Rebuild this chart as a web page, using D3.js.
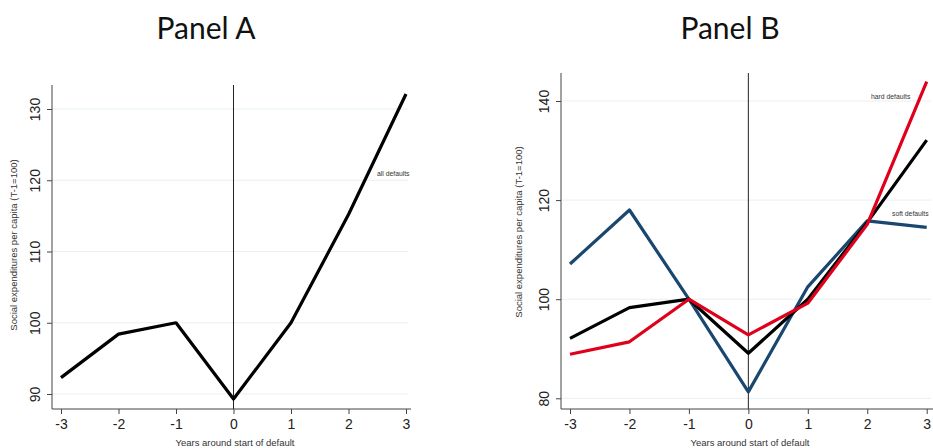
<!DOCTYPE html>
<html><head><meta charset="utf-8">
<script src="https://cdn.jsdelivr.net/npm/d3@7"></script>
<style>body{margin:0;background:#fff}svg{display:block}</style>
</head><body>
<svg id="c" width="933" height="448"></svg>
<script>
const years = [-3, -2, -1, 0, 1, 2, 3];
const xTicks = [-3, -2, -1, 0, 1, 2, 3];
const yTicksA = [90, 100, 110, 120, 130];
const yTicksB = [80, 100, 120, 140];
const allDefaultsA = [92.3, 98.4, 100, 89.3, 100, 115.2, 132.1];
const allDefaultsB = [92.1, 98.3, 100, 89.1, 100, 115.5, 132.1];
const hardDefaults = [88.9, 91.4, 100, 92.8, 99.2, 115.1, 143.9];
const softDefaults = [107.1, 118.0, 100, 81.3, 102.5, 115.8, 114.5];
const titles = ["Panel A", "Panel B"];
const yTitle = "Social expenditures per capita (T-1=100)";
const xTitle = "Years around start of default";

const svg = d3.select("#c");
const FONT = "'Liberation Sans', Arial, sans-serif";
const AXC = "#444", GRID = "#e6f0f2";

function panel(cfg) {
  const g = svg.append("g");
  const x = d3.scaleLinear().domain([-3, 3]).range(cfg.xr);
  const y = d3.scaleLinear().domain(cfg.yd).range(cfg.yr);
  g.selectAll(".grid").data(cfg.yTicks).join("line")
    .attr("x1", cfg.axisX).attr("x2", cfg.gridEnd)
    .attr("y1", d => y(d)).attr("y2", d => y(d))
    .attr("stroke", GRID).attr("stroke-width", 1);
  g.append("line").attr("x1", x(0)).attr("x2", x(0))
    .attr("y1", cfg.top).attr("y2", cfg.axisY)
    .attr("stroke", "#222").attr("stroke-width", 1);
  const ya = g.append("g").attr("transform", `translate(${cfg.axisX},0)`)
    .call(d3.axisLeft(y).tickValues(cfg.yTicks).tickSize(5).tickPadding(0).tickSizeOuter(0));
  ya.select(".domain").remove();
  ya.append("line").attr("x1", 0).attr("x2", 0).attr("y1", cfg.top).attr("y2", cfg.axisY)
    .attr("stroke", AXC);
  ya.selectAll(".tick line").attr("stroke", AXC);
  ya.selectAll(".tick text")
    .attr("x", null).attr("dy", null)
    .attr("text-anchor", "middle")
    .attr("transform", "translate(-12,0) rotate(-90)")
    .attr("fill", "#222").style("font", `14px ${FONT}`);
  const xa = g.append("g").attr("transform", `translate(0,${cfg.axisY})`)
    .call(d3.axisBottom(x).tickValues(xTicks).tickSize(5).tickPadding(5).tickSizeOuter(0)
      .tickFormat(d3.format("d")));
  xa.select(".domain").remove();
  xa.append("line").attr("x1", cfg.axisX).attr("x2", cfg.xAxisEnd).attr("y1", 0).attr("y2", 0)
    .attr("stroke", AXC);
  xa.selectAll(".tick line").attr("stroke", AXC);
  xa.selectAll(".tick text").attr("fill", "#222").style("font", `14px ${FONT}`)
    .text(d => d < 0 ? "-" + Math.abs(d) : d);
  g.append("text").attr("x", cfg.titleX).attr("y", 39).attr("text-anchor", "middle")
    .style("font", "30px Lato, 'Open Sans', sans-serif").attr("fill", "#111").text(cfg.title);
  g.append("text").attr("transform", `translate(${cfg.yTitleX},${cfg.yTitleY}) rotate(-90)`)
    .attr("text-anchor", "middle").style("font", `9.5px ${FONT}`).attr("fill", "#333").text(yTitle);
  g.append("text").attr("x", cfg.xTitleX).attr("y", cfg.xTitleY).attr("text-anchor", "middle")
    .style("font", `9.5px ${FONT}`).attr("fill", "#333").text(xTitle);
  const line = d3.line().x((d, i) => x(years[i])).y(d => y(d));
  cfg.series.forEach(s => {
    g.append("path").attr("d", line(s.values)).attr("fill", "none")
      .attr("stroke", s.color).attr("stroke-width", 3.2)
      .attr("stroke-linejoin", "round").attr("stroke-linecap", "butt");
  });
  cfg.labels.forEach(l => {
    g.append("text").attr("x", l.x).attr("y", y(l.v)).attr("dy", "0.35em")
      .style("font", `6.8px ${FONT}`).attr("fill", "#333").text(l.text);
  });
}

panel({
  title: titles[0], titleX: 206,
  xr: [61, 406], yd: [90, 130], yr: [394, 109],
  yTicks: yTicksA, axisX: 52, axisY: 409, top: 85, gridEnd: 408, xAxisEnd: 411,
  yTitleX: 17, yTitleY: 245, xTitleX: 235, xTitleY: 446,
  series: [{ values: allDefaultsA, color: "#000" }],
  labels: [{ x: 377, v: 120.9, text: "all defaults" }]
});

panel({
  title: titles[1], titleX: 730,
  xr: [570, 926.7], yd: [80, 140], yr: [398.3, 101],
  yTicks: yTicksB, axisX: 561, axisY: 409, top: 73, gridEnd: 931, xAxisEnd: 933,
  yTitleX: 522, yTitleY: 232, xTitleX: 750, xTitleY: 446,
  series: [
    { values: softDefaults, color: "#1a476f" },
    { values: allDefaultsB, color: "#000" },
    { values: hardDefaults, color: "#e0001b" }
  ],
  labels: [
    { x: 871, v: 140.9, text: "hard defaults" },
    { x: 892, v: 117.3, text: "soft defaults" }
  ]
});
</script>
</body></html>
